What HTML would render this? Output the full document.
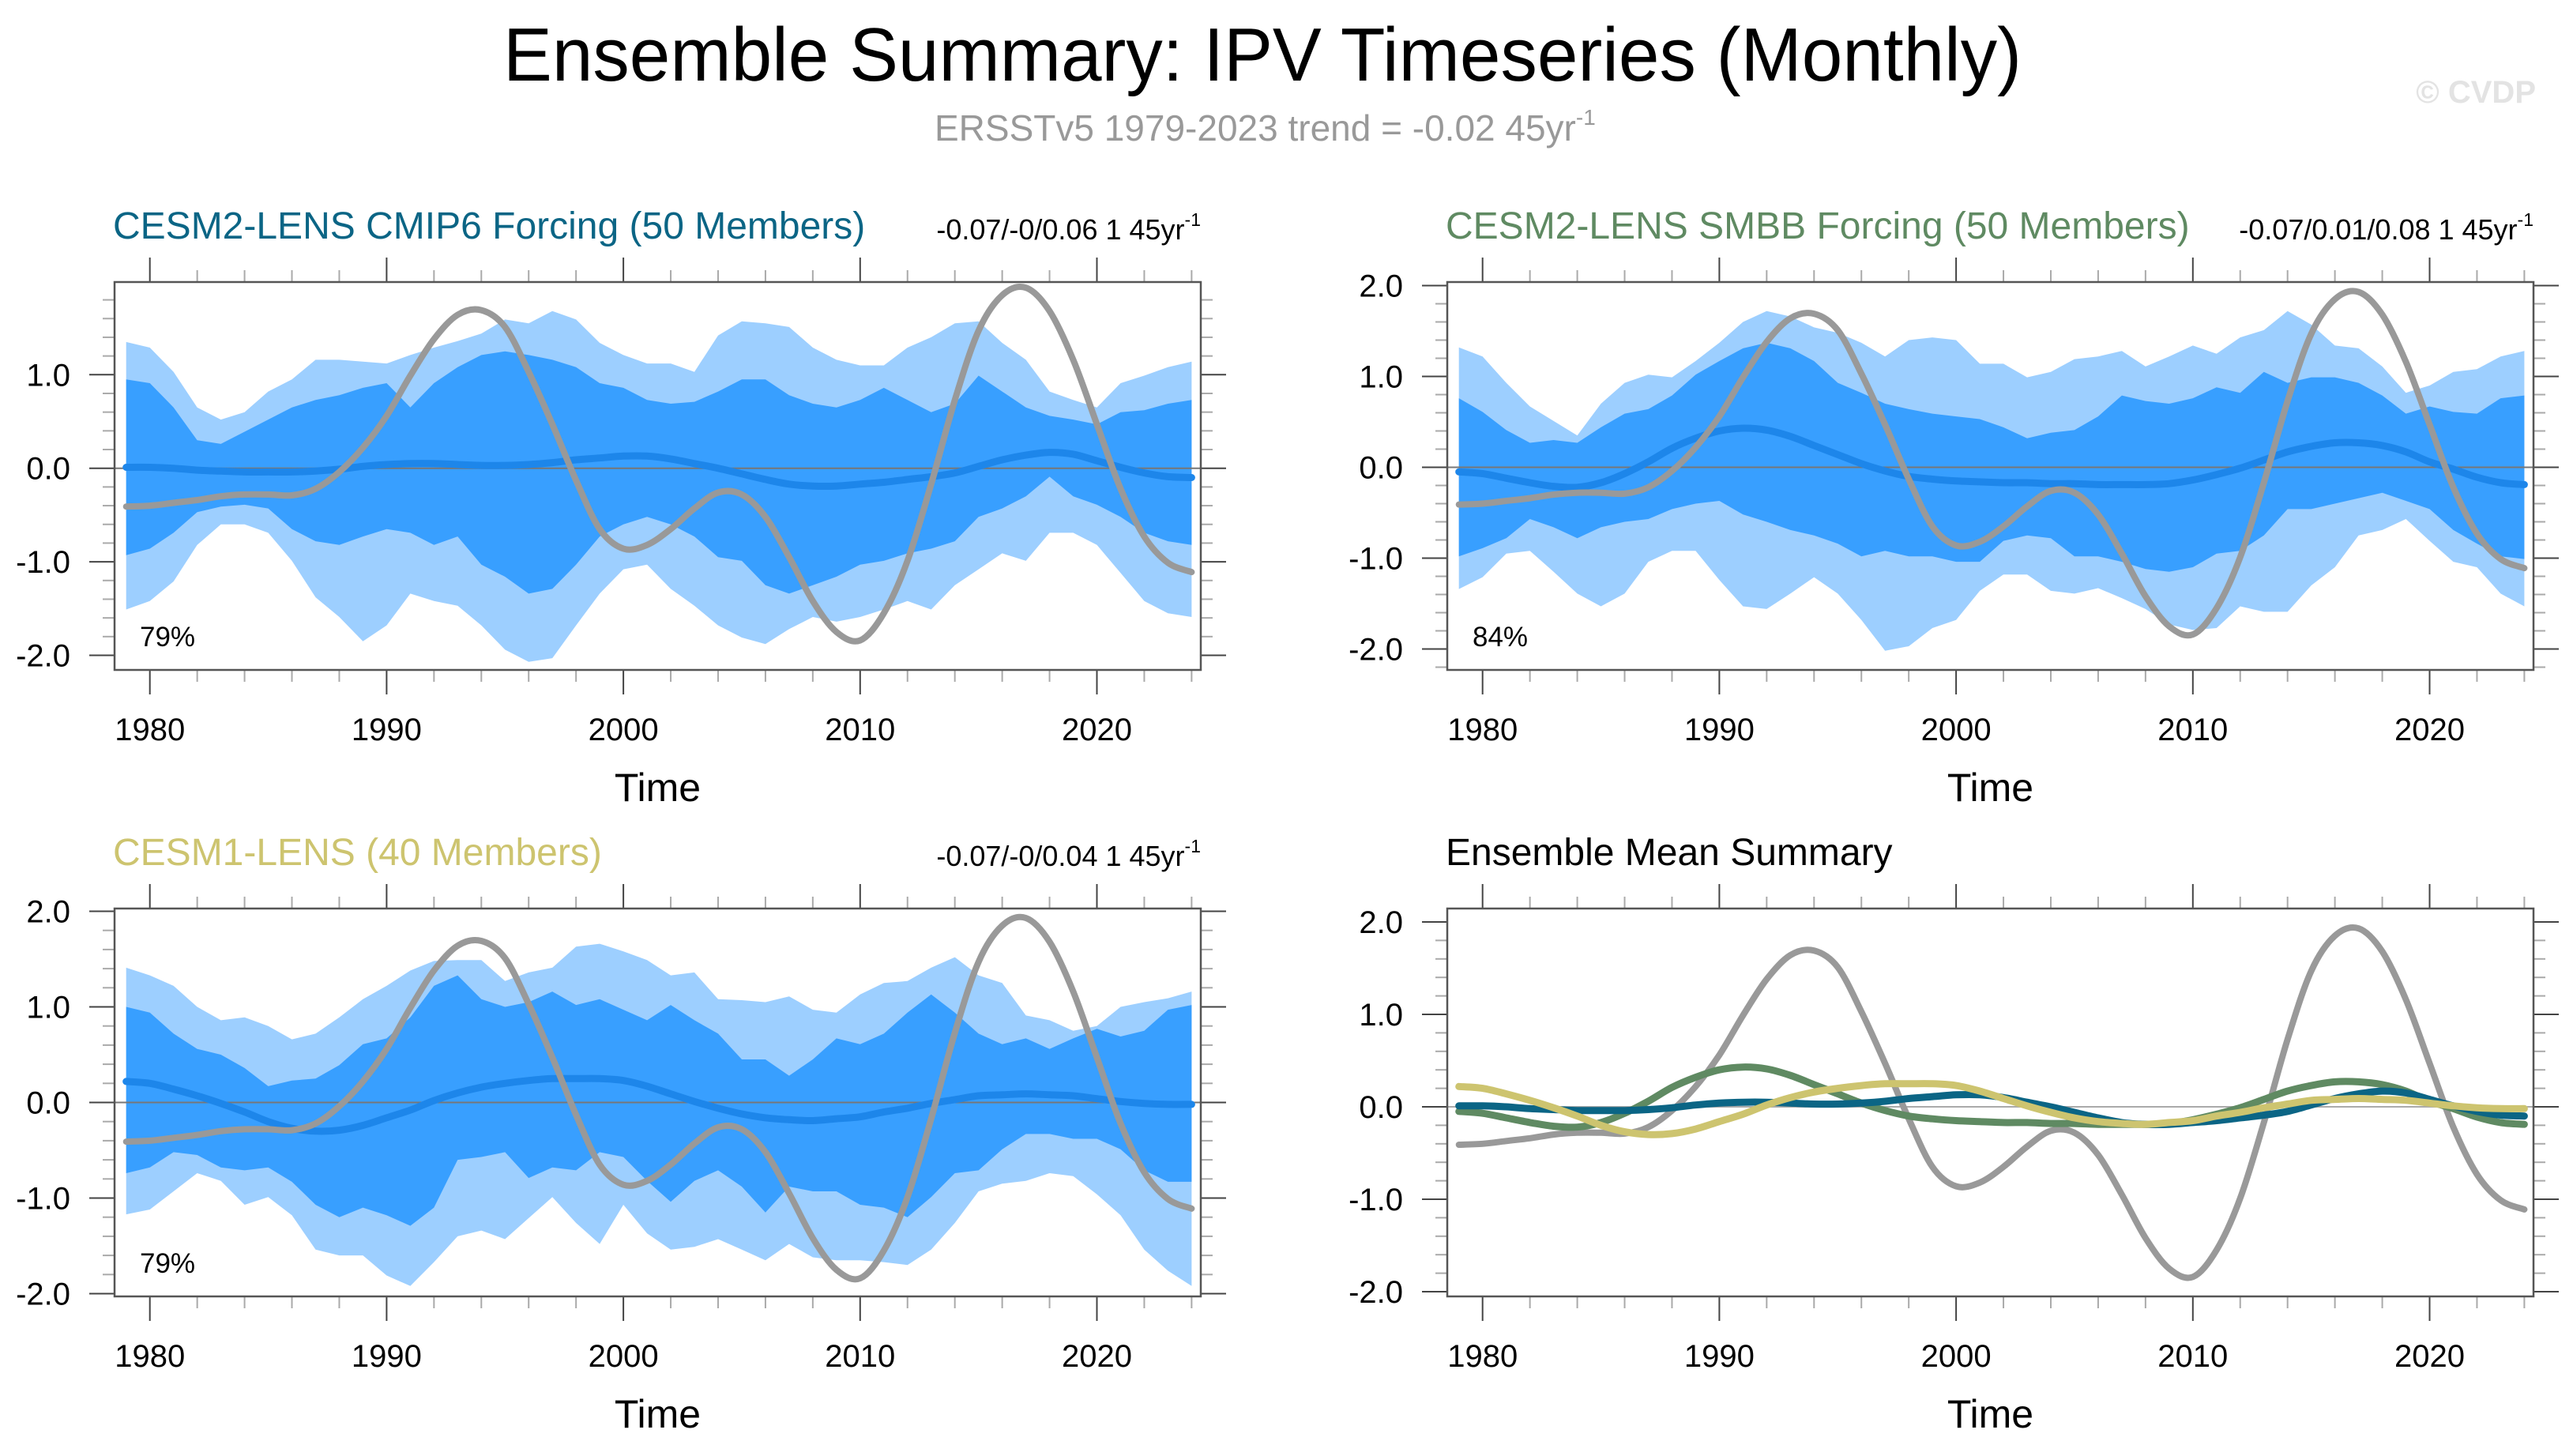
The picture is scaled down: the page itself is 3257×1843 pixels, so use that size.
<!DOCTYPE html>
<html><head><meta charset="utf-8"><style>
html,body{margin:0;padding:0;background:#fff;}
svg{display:block;font-family:"Liberation Sans",sans-serif;}
</style></head><body>
<svg id="chart" width="3257" height="1843" viewBox="0 0 3257 1843" xmlns="http://www.w3.org/2000/svg">
<text x="1598" y="102" font-size="96" text-anchor="middle" fill="#000" textLength="1922" lengthAdjust="spacingAndGlyphs">Ensemble Summary: IPV Timeseries (Monthly)</text>
<text x="1183" y="178" font-size="46" fill="#999">ERSSTv5 1979-2023 trend = -0.02 45yr<tspan font-size="28" dy="-20">-1</tspan></text>
<text x="3210" y="130" font-size="40" font-weight="bold" text-anchor="end" fill="#e3e3e3">© CVDP</text>
</svg>
<script>
const years=[];for(let y=1979;y<=2024;y++)years.push(y);
const ersst=[-0.41,-0.40,-0.37,-0.34,-0.30,-0.28,-0.28,-0.29,-0.22,-0.04,0.22,0.56,0.99,1.38,1.64,1.69,1.51,1.03,0.47,-0.13,-0.65,-0.86,-0.82,-0.65,-0.43,-0.26,-0.28,-0.52,-0.95,-1.42,-1.75,-1.84,-1.55,-0.99,-0.17,0.73,1.47,1.85,1.93,1.68,1.16,0.47,-0.22,-0.73,-1.01,-1.11];
const meanCmip6=[0.01,0.01,0.0,-0.02,-0.03,-0.04,-0.04,-0.04,-0.03,-0.01,0.02,0.04,0.05,0.05,0.04,0.03,0.03,0.04,0.06,0.09,0.11,0.13,0.13,0.10,0.05,0.0,-0.06,-0.12,-0.17,-0.19,-0.19,-0.17,-0.15,-0.12,-0.09,-0.05,0.02,0.09,0.14,0.17,0.15,0.08,0.01,-0.05,-0.09,-0.10];
const meanSmbb=[-0.05,-0.07,-0.12,-0.17,-0.21,-0.22,-0.17,-0.07,0.06,0.21,0.32,0.40,0.43,0.41,0.34,0.24,0.14,0.04,-0.04,-0.10,-0.13,-0.15,-0.16,-0.17,-0.17,-0.18,-0.18,-0.19,-0.19,-0.19,-0.18,-0.14,-0.08,-0.01,0.08,0.17,0.23,0.27,0.27,0.24,0.17,0.06,-0.02,-0.11,-0.17,-0.19];
const meanCesm1=[0.22,0.20,0.14,0.07,-0.01,-0.10,-0.20,-0.27,-0.30,-0.29,-0.24,-0.16,-0.08,0.02,0.10,0.16,0.20,0.23,0.25,0.25,0.25,0.23,0.17,0.09,0.01,-0.06,-0.12,-0.16,-0.18,-0.19,-0.17,-0.15,-0.10,-0.06,-0.01,0.03,0.07,0.08,0.09,0.08,0.07,0.04,0.01,-0.01,-0.02,-0.02];
const cmip6LightUp=[1.35,1.29,1.03,0.65,0.52,0.60,0.82,0.95,1.16,1.16,1.14,1.12,1.21,1.29,1.36,1.44,1.59,1.55,1.68,1.59,1.34,1.21,1.12,1.12,1.03,1.42,1.57,1.55,1.51,1.29,1.16,1.10,1.10,1.29,1.40,1.55,1.57,1.34,1.16,0.82,0.73,0.65,0.91,0.99,1.08,1.14];
const cmip6DarkUp=[0.95,0.91,0.65,0.30,0.26,0.39,0.52,0.65,0.73,0.78,0.86,0.91,0.65,0.91,1.08,1.21,1.25,1.21,1.16,1.08,0.91,0.86,0.73,0.69,0.71,0.82,0.95,0.95,0.78,0.69,0.65,0.73,0.86,0.73,0.60,0.69,0.99,0.82,0.65,0.56,0.52,0.47,0.60,0.62,0.69,0.73];
const cmip6DarkLo=[-0.93,-0.86,-0.69,-0.47,-0.41,-0.39,-0.43,-0.65,-0.78,-0.82,-0.73,-0.65,-0.69,-0.82,-0.73,-1.03,-1.16,-1.34,-1.29,-1.03,-0.73,-0.60,-0.52,-0.60,-0.73,-0.95,-0.99,-1.25,-1.34,-1.25,-1.16,-1.03,-0.99,-0.91,-0.86,-0.78,-0.52,-0.43,-0.30,-0.09,-0.30,-0.39,-0.52,-0.69,-0.78,-0.82];
const cmip6LightLo=[-1.51,-1.42,-1.21,-0.82,-0.60,-0.60,-0.69,-0.99,-1.38,-1.59,-1.85,-1.68,-1.34,-1.42,-1.47,-1.68,-1.94,-2.07,-2.03,-1.68,-1.34,-1.08,-1.03,-1.29,-1.47,-1.68,-1.81,-1.88,-1.72,-1.59,-1.64,-1.59,-1.51,-1.42,-1.51,-1.25,-1.08,-0.91,-0.99,-0.69,-0.69,-0.82,-1.12,-1.42,-1.55,-1.59];
const smbbLightUp=[1.32,1.22,0.93,0.67,0.51,0.35,0.70,0.93,1.02,0.99,1.17,1.37,1.60,1.72,1.66,1.54,1.48,1.37,1.22,1.40,1.43,1.40,1.14,1.14,0.99,1.05,1.19,1.22,1.28,1.11,1.22,1.34,1.25,1.43,1.51,1.72,1.57,1.34,1.31,1.11,0.82,0.90,1.05,1.08,1.22,1.28];
const smbbDarkUp=[0.76,0.61,0.41,0.27,0.30,0.27,0.44,0.59,0.64,0.79,1.02,1.17,1.31,1.37,1.31,1.17,0.93,0.82,0.70,0.64,0.59,0.56,0.53,0.44,0.32,0.38,0.41,0.56,0.79,0.73,0.70,0.76,0.88,0.82,1.05,0.93,0.99,0.99,0.93,0.79,0.59,0.67,0.61,0.59,0.76,0.79];
const smbbDarkLo=[-0.98,-0.89,-0.78,-0.57,-0.66,-0.78,-0.66,-0.60,-0.57,-0.46,-0.40,-0.37,-0.52,-0.60,-0.69,-0.75,-0.84,-0.98,-0.92,-0.98,-0.98,-1.04,-1.04,-0.81,-0.75,-0.78,-0.98,-0.98,-1.04,-1.12,-1.15,-1.10,-0.95,-0.92,-0.75,-0.46,-0.46,-0.40,-0.34,-0.28,-0.37,-0.46,-0.69,-0.84,-0.98,-1.01];
const smbbLightLo=[-1.34,-1.21,-0.95,-0.92,-1.15,-1.39,-1.53,-1.39,-1.04,-0.92,-0.92,-1.24,-1.53,-1.56,-1.39,-1.21,-1.39,-1.68,-2.02,-1.97,-1.77,-1.68,-1.36,-1.18,-1.18,-1.36,-1.39,-1.33,-1.44,-1.56,-1.73,-1.79,-1.77,-1.53,-1.59,-1.59,-1.30,-1.10,-0.75,-0.69,-0.57,-0.81,-1.04,-1.10,-1.39,-1.53];
const cesm1LightUp=[1.41,1.33,1.22,1.00,0.86,0.89,0.80,0.66,0.72,0.89,1.08,1.22,1.38,1.48,1.49,1.49,1.27,1.36,1.41,1.63,1.66,1.58,1.49,1.33,1.36,1.08,1.07,1.05,1.11,0.97,0.94,1.13,1.25,1.27,1.41,1.52,1.33,1.25,0.91,0.86,0.75,0.80,1.00,1.05,1.09,1.16];
const cesm1DarkUp=[1.00,0.94,0.72,0.56,0.50,0.36,0.17,0.23,0.25,0.39,0.61,0.67,0.89,1.22,1.33,1.08,1.00,1.05,1.16,1.02,1.08,0.97,0.86,1.02,0.86,0.72,0.45,0.45,0.28,0.45,0.67,0.61,0.72,0.94,1.13,0.94,0.72,0.61,0.67,0.56,0.67,0.77,0.69,0.75,0.97,1.02];
const cesm1DarkLo=[-0.74,-0.68,-0.52,-0.55,-0.68,-0.71,-0.68,-0.83,-1.07,-1.20,-1.10,-1.18,-1.29,-1.10,-0.60,-0.57,-0.52,-0.79,-0.68,-0.71,-0.52,-0.57,-0.82,-1.04,-0.82,-0.71,-0.88,-1.15,-0.88,-0.93,-0.93,-1.07,-1.10,-1.20,-0.99,-0.74,-0.71,-0.49,-0.33,-0.33,-0.38,-0.38,-0.49,-0.71,-0.83,-0.83];
const cesm1LightLo=[-1.17,-1.12,-0.93,-0.74,-0.82,-1.07,-0.99,-1.18,-1.54,-1.60,-1.60,-1.81,-1.92,-1.67,-1.40,-1.34,-1.43,-1.21,-0.99,-1.26,-1.48,-1.07,-1.37,-1.54,-1.51,-1.43,-1.54,-1.65,-1.48,-1.62,-1.65,-1.65,-1.67,-1.70,-1.54,-1.26,-0.93,-0.85,-0.82,-0.74,-0.77,-0.96,-1.18,-1.54,-1.76,-1.92];
const xTickYears=[1980,1990,2000,2010,2020];
const xTickLabels=["1980","1990","2000","2010","2020"];

const NS="http://www.w3.org/2000/svg";
const svg=document.getElementById('chart');
function el(tag,attrs,parent){const e=document.createElementNS(NS,tag);for(const k in attrs)e.setAttribute(k,attrs[k]);(parent||svg).appendChild(e);return e;}

const W=1375,H=491;
function makeAxes(left,top,zeroY,ppu){
  const xs=yr=>left+44.7+(yr-1980)*29.97;
  const ys=v=>zeroY-v*ppu;
  return {xs,ys,left,top,vmax:(zeroY-top)/ppu,vmin:(zeroY-top-H)/ppu};
}
function linePath(ax,vals){
  const p=years.map((y,i)=>[ax.xs(y),ax.ys(vals[i])]);
  let d='M'+p[0][0].toFixed(1)+','+p[0][1].toFixed(1);
  for(let i=0;i<p.length-1;i++){
    const p0=p[Math.max(0,i-1)],p1=p[i],p2=p[i+1],p3=p[Math.min(p.length-1,i+2)];
    const c1=[p1[0]+(p2[0]-p0[0])/6,p1[1]+(p2[1]-p0[1])/6];
    const c2=[p2[0]-(p3[0]-p1[0])/6,p2[1]-(p3[1]-p1[1])/6];
    d+='C'+c1[0].toFixed(1)+','+c1[1].toFixed(1)+' '+c2[0].toFixed(1)+','+c2[1].toFixed(1)+' '+p2[0].toFixed(1)+','+p2[1].toFixed(1);
  }
  return d;
}
function bandPath(ax,up,lo){
  let d='';
  years.forEach((y,i)=>{d+=(i?'L':'M')+ax.xs(y).toFixed(1)+','+ax.ys(up[i]).toFixed(1);});
  for(let i=years.length-1;i>=0;i--)d+='L'+ax.xs(years[i]).toFixed(1)+','+ax.ys(lo[i]).toFixed(1);
  return d+'Z';
}
function frame(ax,g){
  const L=ax.left,T=ax.top,R=L+W,B=T+H;
  for(let yr=1980;yr<=2024;yr+=2){
    const major=yr%10===0,x=ax.xs(yr),len=major?31:15;
    const c=major?'#444':'#aaa';
    const tb=el('line',{x1:x,y1:B,x2:x,y2:B+len,stroke:c,'stroke-width':2},g);
    
    
    const tt=el('line',{x1:x,y1:T,x2:x,y2:T-len,stroke:c,'stroke-width':2},g);
    
    
  }
  const start=Math.ceil(ax.vmin*5-1e-6),end=Math.floor(ax.vmax*5+1e-6);
  for(let k=start;k<=end;k++){
    const v=k/5,y=ax.ys(v),major=k%5===0,len=major?32:15,c=major?'#444':'#aaa';
    const tl=el('line',{x1:L,y1:y,x2:L-len,y2:y,stroke:c,'stroke-width':2},g);
    
    
    const tr=el('line',{x1:R,y1:y,x2:R+len,y2:y,stroke:c,'stroke-width':2},g);
    
    
    if(major){
      const t=el('text',{x:L-56,y:y+14,'font-size':40,'text-anchor':'end',fill:'#000'},g);
      
      
      t.textContent=(k/5).toFixed(1);
    }
  }
  xTickYears.forEach((yr,i)=>{
    const t=el('text',{x:ax.xs(yr),y:B+89,'font-size':40,'text-anchor':'middle',fill:'#000'},g);
    
    
    t.textContent=xTickLabels[i];
  });
  const xt=el('text',{x:L+W/2,y:B+166,'font-size':50,'text-anchor':'middle',fill:'#000'},g);
  
  
  xt.textContent='Time';
  const bx=el('rect',{x:L,y:T,width:W,height:H,fill:'none',stroke:'#555','stroke-width':2.5},g);
  
  
}
function titles(g,ax,title,color,right){
  const t=el('text',{x:ax.left-2,y:ax.top-55,'font-size':48,fill:color},g);
  
  
  t.textContent=title;
  if(right){
    const r=el('text',{x:ax.left+W,y:ax.top-54,'font-size':36,'text-anchor':'end',fill:'#000'},g);
    
    
    r.textContent=right;
    const s=el('tspan',{'font-size':23,dy:-17},r);
    s.textContent='-1';
  }
}
function zeroLine(ax,g){
  const z=el('line',{x1:ax.left,y1:ax.ys(0),x2:ax.left+W,y2:ax.ys(0),stroke:'#777','stroke-width':2},g);
  
  
}
function ensPanel(name,left,top,zeroY,ppu,title,color,right,lu,du,dl,ll,mean,pct){
  const ax=makeAxes(left,top,zeroY,ppu);
  const g=el('g',{});
  
  
  const b1=el('path',{d:bandPath(ax,lu,ll),fill:'#9dcfff'},g);
  
  
  const b2=el('path',{d:bandPath(ax,du,dl),fill:'#389fff'},g);
  
  
  zeroLine(ax,g);
  const m=el('path',{d:linePath(ax,mean),fill:'none',stroke:'#1d86ea','stroke-width':9,'stroke-linecap':'round'},g);
  
  
  const o=el('path',{d:linePath(ax,ersst),fill:'none',stroke:'#999','stroke-width':8,'stroke-linecap':'round'},g);
  
  
  const p=el('text',{x:left+32,y:top+H-30,'font-size':35,fill:'#000'},g);
  
  
  p.textContent=pct;
  frame(ax,g);titles(g,ax,title,color,right);
}
ensPanel('panel-cesm2-cmip6',145,357,592.7,118.4,'CESM2-LENS CMIP6 Forcing (50 Members)','#0b6585','-0.07/-0/0.06 1 45yr',cmip6LightUp,cmip6DarkUp,cmip6DarkLo,cmip6LightLo,meanCmip6,'79%');
ensPanel('panel-cesm2-smbb',1832,357,591.5,115,'CESM2-LENS SMBB Forcing (50 Members)','#5f8a62','-0.07/0.01/0.08 1 45yr',smbbLightUp,smbbDarkUp,smbbDarkLo,smbbLightLo,meanSmbb,'84%');
ensPanel('panel-cesm1',145,1150,1395.5,121,'CESM1-LENS (40 Members)','#cdc46f','-0.07/-0/0.04 1 45yr',cesm1LightUp,cesm1DarkUp,cesm1DarkLo,cesm1LightLo,meanCesm1,'79%');
(function(){
  const ax=makeAxes(1832,1150,1401,117);
  const g=el('g',{});
  
  
  const z=el('line',{x1:ax.left,y1:ax.ys(0),x2:ax.left+W,y2:ax.ys(0),stroke:'#aaa','stroke-width':2},g);
  
  
  const o=el('path',{d:linePath(ax,ersst),fill:'none',stroke:'#999','stroke-width':8,'stroke-linecap':'round'},g);
  
  
  const a=el('path',{d:linePath(ax,meanSmbb),fill:'none',stroke:'#5f8a62','stroke-width':9,'stroke-linecap':'round'},g);
  
  
  const b=el('path',{d:linePath(ax,meanCmip6),fill:'none',stroke:'#0b6585','stroke-width':9,'stroke-linecap':'round'},g);
  
  
  const c=el('path',{d:linePath(ax,meanCesm1),fill:'none',stroke:'#cdc46f','stroke-width':9,'stroke-linecap':'round'},g);
  
  
  frame(ax,g);titles(g,ax,'Ensemble Mean Summary','#000',null);
})();
</script>
</body></html>
